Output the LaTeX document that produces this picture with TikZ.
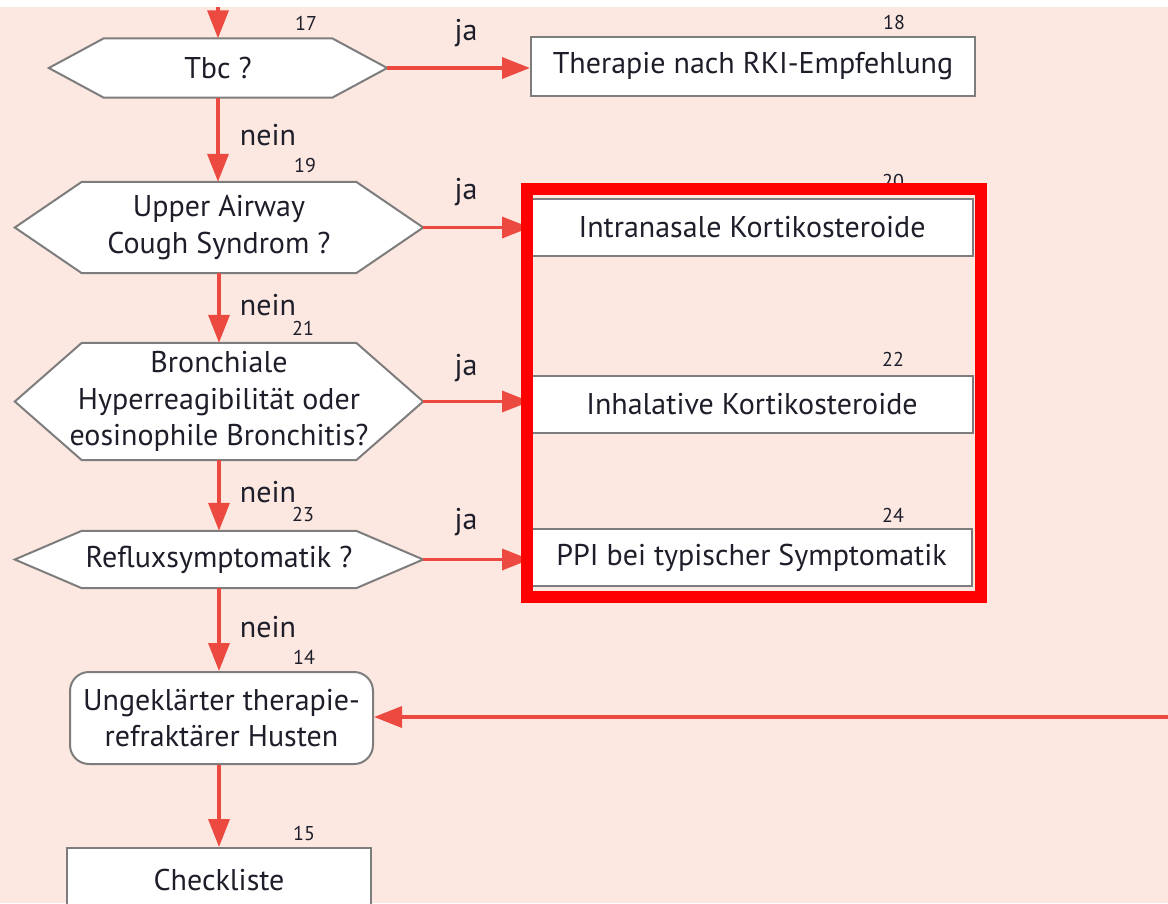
\documentclass[tikz,border=0pt]{standalone}
\usepackage{fontspec}
\setmainfont{PT Sans}
\usetikzlibrary{arrows.meta,calc}

\definecolor{bgpink}{RGB}{252,232,225}
\definecolor{flowred}{RGB}{236,74,64}
\definecolor{edgegray}{RGB}{125,125,125}
\definecolor{inkc}{RGB}{30,30,42}
\definecolor{framered}{RGB}{255,0,0}

\pgfdeclarelayer{bg}
\pgfdeclarelayer{shapes}
\pgfsetlayers{bg,shapes,main}

\tikzset{
  txt/.style={font=\fontsize{30}{36.5}\selectfont, text=inkc, align=center, inner sep=0pt},
  boxnode/.style={txt, draw=edgegray, line width=2pt, fill=white},
  hexline/.style={draw=edgegray, line width=2pt, fill=white, line join=miter},
  num/.style={font=\fontsize{20}{22}\selectfont, text=inkc, inner sep=0pt},
  lbl/.style={font=\fontsize{30}{32}\selectfont, text=inkc, inner sep=0pt},
  flow/.style={draw=flowred, line width=3.5pt, -{Triangle[length=28pt,width=21pt]}},
}

% outline of a decision node: pointed left and right ends
\newcommand\drawhexoutline[2]{%
  \begin{pgfonlayer}{shapes}
    \path[hexline] (#1.west) -- ($(#1.north west)+(#2,0)$) -- ($(#1.north east)+(-#2,0)$)
      -- (#1.east) -- ($(#1.south east)+(-#2,0)$) -- ($(#1.south west)+(#2,0)$) -- cycle;
  \end{pgfonlayer}}

\begin{document}
\begin{tikzpicture}[x=1pt,y=-1pt]
  \useasboundingbox (0,0) rectangle (1168,903);
  \begin{pgfonlayer}{bg}
    \fill[bgpink] (0,0) rectangle (1168,903);
  \end{pgfonlayer}

  % decisions
  \node[txt, minimum width=338pt, minimum height=59pt] (tbc) at (218,68) {Tbc ?};
  \node[txt, minimum width=408pt, minimum height=91pt] (uacs) at (219,227.5) {Upper Airway\\Cough Syndrom ?};
  \node[txt, minimum width=408pt, minimum height=117pt] (bron) at (219,401.5) {Bronchiale\\Hyperreagibilität oder\\eosinophile Bronchitis?};
  \node[txt, minimum width=408pt, minimum height=57pt] (reflux) at (219,559.5) {Refluxsymptomatik ?};
  \drawhexoutline{tbc}{55}
  \drawhexoutline{uacs}{67}
  \drawhexoutline{bron}{67}
  \drawhexoutline{reflux}{67}

  % actions
  \node[boxnode, minimum width=444pt, minimum height=59pt] (rki) at (753,66.5) {Therapie nach RKI-Empfehlung};
  \node[boxnode, minimum width=442pt, minimum height=57pt] (intra) at (752,227.5) {Intranasale Kortikosteroide};
  \node[boxnode, minimum width=442pt, minimum height=57pt] (inhal) at (752,404.5) {Inhalative Kortikosteroide};
  \node[boxnode, minimum width=441pt, minimum height=57pt] (ppi) at (751.5,557.5) {PPI bei typischer Symptomatik};
  \node[boxnode, rounded corners=19pt, minimum width=303pt, minimum height=92pt] (ung) at (221.5,718) {Ungeklärter therapie-\\refraktärer Husten};
  \node[boxnode, minimum width=304pt, minimum height=64pt] (check) at (219,880) {Checkliste};

  % step numbers
  \node[num] (n17) at (306,23) {17};
  \node[num] (n18) at (894,22) {18};
  \node[num] (n19) at (305,165) {19};
  \node[num] (n20) at (893,181) {20};
  \node[num] (n21) at (303,328) {21};
  \node[num] (n22) at (893,359) {22};
  \node[num] (n23) at (303,514) {23};
  \node[num] (n24) at (893,515) {24};
  \node[num] (n14) at (304,657) {14};
  \node[num] (n15) at (304,833) {15};

  % branch labels
  \node[lbl] (ja1) at (466,33) {ja};
  \node[lbl] (ja2) at (466,192) {ja};
  \node[lbl] (ja3) at (466,368) {ja};
  \node[lbl] (ja4) at (466,522) {ja};
  \node[lbl] (ne1) at (268,135) {nein};
  \node[lbl] (ne2) at (268,305) {nein};
  \node[lbl] (ne3) at (268,492) {nein};
  \node[lbl] (ne4) at (268,627) {nein};

  % connectors
  \coordinate (topin) at (218,-10);
  \coordinate (rightin) at (1180,717);
  \draw[flow] (topin) -- (tbc.north);
  \draw[flow] (tbc.east) -- (tbc.east -| rki.west);
  \draw[flow] (uacs.east) -- (uacs.east -| intra.west);
  \draw[flow] (bron.east) -- (bron.east -| inhal.west);
  \draw[flow] (reflux.east) -- (reflux.east -| ppi.west);
  \draw[flow] (tbc.south) -- (tbc.south |- uacs.north);
  \draw[flow] (uacs.south) -- (uacs.south |- bron.north);
  \draw[flow] (bron.south) -- (bron.south |- reflux.north);
  \draw[flow] (reflux.south) -- (reflux.south |- ung.north);
  \draw[flow] (rightin) -- (rightin -| ung.east);
  \draw[flow] (ung.south -| check.north) -- (check.north);

  % highlight frame around the three therapy boxes
  \node[draw=framered, line width=12pt, minimum width=454pt, minimum height=408pt, inner sep=0pt] (hl) at (754,393) {};

  % blank strip along the upper edge
  \fill[white] (0,0) rectangle (1168,7);
\end{tikzpicture}
\end{document}
